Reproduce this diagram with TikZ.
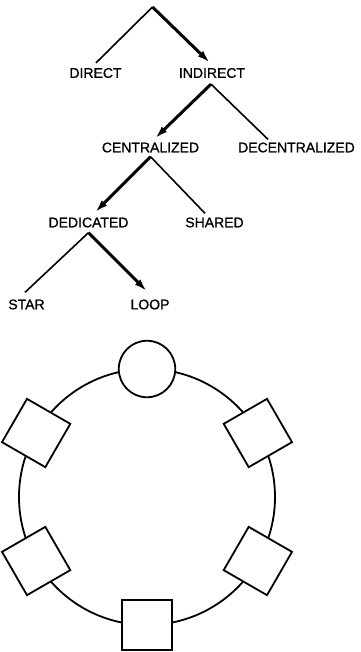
\documentclass[tikz,border=0pt]{standalone}
\usepackage{fontspec}
\setmainfont[FakeBold=1]{Liberation Sans}
\usetikzlibrary{arrows.meta,calc}
\begin{document}
\begin{tikzpicture}[x=1pt,y=-1pt,
  lbl/.style={font=\fontsize{14}{14}\selectfont, inner sep=0pt},
  thinline/.style={line width=1.6pt},
  thickarrow/.style={line width=3pt, -{Latex[length=13pt,width=7.5pt]}},
  ringline/.style={draw, line width=1.8pt},
  station/.style={ringline, fill=white, minimum size=50pt, inner sep=0pt},
  hub/.style={ringline, fill=white, circle, minimum size=56.5pt, inner sep=0pt}]
\path[use as bounding box] (0,0) rectangle (360,652);
% tree labels
\node[lbl] (direct) at (95.5,73) {DIRECT};
\node[lbl] (indirect) at (212,73) {INDIRECT};
\node[lbl] (central) at (150.5,147.5) {CENTRALIZED};
\node[lbl] (decentral) at (296.5,147.5) {DECENTRALIZED};
\node[lbl] (dedicated) at (88.5,222.5) {DEDICATED};
\node[lbl] (shared) at (214.5,222.5) {SHARED};
\node[lbl] (star) at (26.5,304.5) {STAR};
\node[lbl] (loop) at (150,304.5) {LOOP};
% apexes
\coordinate (top) at (152.5,7);
\coordinate (ap1) at ($(indirect.south)+(-1,6)$);
\coordinate (ap2) at ($(central.south)+(0,4)$);
\coordinate (ap3) at ($(dedicated.south)+(0,5)$);
% connectors
\draw[thinline] (top) -- ($(direct.north)+(0.5,-5)$);
\draw[thickarrow] (top) -- ($(indirect.north)+(-2,-5)$);
\draw[thickarrow] (ap1) -- ($(central.north)+(4.5,-4)$);
\draw[thinline] (ap1) -- ($(decentral.north)+(-28.5,-3)$);
\draw[thickarrow] (ap2) -- ($(dedicated.north)+(6.5,-5)$);
\draw[thinline] (ap2) -- ($(shared.north)+(-9.5,-4)$);
\draw[thinline] (ap3) -- ($(star.north)+(-1.5,-7)$);
\draw[thickarrow] (ap3) -- ($(loop.north)+(-3,-8)$);
% ring
\node[ringline, circle, minimum size=256pt, inner sep=0pt] (ring) at (147,497) {};
\node[hub] (h) at ($(ring.center)+(90:128pt)$) {};
\node[station, rotate=30] (s1) at ($(ring.center)+(30:128pt)$) {};
\node[station, rotate=-30] (s2) at ($(ring.center)+(150:128pt)$) {};
\node[station, rotate=30] (s3) at ($(ring.center)+(210:128pt)$) {};
\node[station] (s4) at ($(ring.center)+(270:128pt)$) {};
\node[station, rotate=-30] (s5) at ($(ring.center)+(330:128pt)$) {};
\end{tikzpicture}
\end{document}
